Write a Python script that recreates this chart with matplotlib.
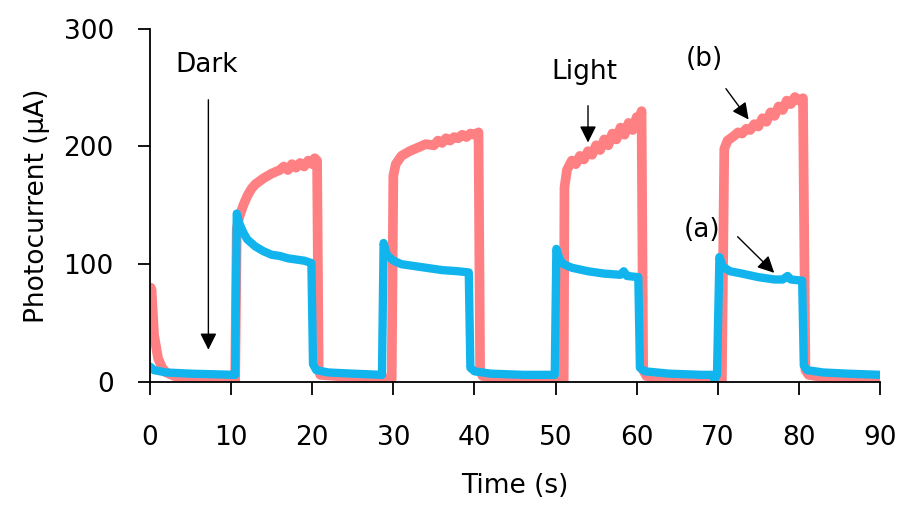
import matplotlib
matplotlib.use('Agg')
import matplotlib.pyplot as plt

# (b) red curve
t_b = [0.1, 0.2, 0.5, 1, 1.5, 2, 3, 4, 5, 6, 8, 10, 10.5, 10.7, 11, 11.5, 12, 12.5, 13, 14, 15, 16,
       16.5, 17, 17.5, 18, 18.5, 19, 19.5, 20, 20.3, 20.6, 20.8, 21, 23, 26, 29, 29.8, 30, 30.3, 31,
       32, 33, 34, 35, 35.5, 36, 36.5, 37, 37.5, 38, 38.5, 39, 39.5, 40, 40.5, 40.7, 41, 44, 48, 50,
       51, 51.1, 51.4, 52, 52.5, 53, 53.5, 54, 54.5, 55, 55.5, 56, 56.5, 57, 57.5, 58, 58.5, 59, 59.5,
       60, 60.3, 60.6, 60.8, 61.2, 64, 68, 70.5, 70.8, 71.2, 72, 72.5, 73, 73.5, 74, 74.5, 75, 75.5,
       76, 76.5, 77, 77.5, 78, 78.5, 79, 79.5, 80, 80.5, 80.8, 81.2, 83, 85, 87, 90]
i_b = [80, 78, 40, 20, 12, 8, 5, 4, 2, 1, 0, 0, 1, 130, 140, 150, 158, 164, 168, 173, 177, 180,
       183, 180, 185, 182, 186, 183, 188, 185, 190, 188, 10, 6, 5, 4, 3, 2, 175, 185, 192,
       196, 199, 202, 201, 205, 203, 207, 205, 208, 207, 210, 208, 211, 210, 212, 10, 5, 3, 2, 1,
       0, 165, 180, 188, 185, 192, 189, 196, 193, 201, 197, 206, 201, 211, 206, 216, 210, 220, 214,
       225, 219, 230, 10, 5, 2, 1, 1, 198, 205, 209, 212, 211, 215, 214, 219, 217, 224,
       221, 229, 226, 234, 231, 239, 236, 242, 239, 241, 10, 6, 4, 2, 0, 0]

# (a) blue curve
t_a = [0, 0.5, 2, 5, 10.5, 10.7, 11, 11.5, 12, 13, 14, 15, 16, 17, 18, 19, 19.9, 20.1, 20.5, 22, 25,
       28.6, 28.8, 29.2, 30, 31, 32, 34, 36, 38, 39.3, 39.5, 40, 42, 46, 49.9, 50.1, 50.5, 51, 52, 54,
       56, 58, 58.4, 58.8, 60.2, 60.4, 61, 64, 68, 69.3, 69.6, 69.9, 70.2, 70.6, 71.5, 73, 75, 77, 78,
       78.6, 79, 80.4, 80.6, 81, 83, 86, 90]
i_a = [13, 10, 8, 7, 6, 143, 135, 127, 121, 115, 111, 108, 107, 105, 104, 103, 101, 15, 10, 8, 7,
       6, 118, 108, 103, 100, 99, 97, 95, 94, 93, 12, 9, 7, 6, 6, 113, 104, 100, 97, 94,
       92, 91, 94, 90, 89, 12, 9, 7, 6, 6, 2, 6, 106, 98, 94, 92, 89, 87, 87,
       90, 87, 86, 14, 10, 8, 7, 6]

xticks = [0, 10, 20, 30, 40, 50, 60, 70, 80, 90]
yticks = [0, 100, 200, 300]

plt.rcParams['font.family'] = ['DejaVu Sans']
fig = plt.figure(figsize=(8.98, 5.14), dpi=100)
ax = fig.add_axes([0.167, 0.257, 0.813, 0.687])

ax.plot(t_b, i_b, color='#FF8083', lw=7, solid_joinstyle='round', solid_capstyle='round')
ax.plot(t_a, i_a, color='#12B4EE', lw=6, solid_joinstyle='round', solid_capstyle='round')

ax.set_xlim(0, 90)
ax.set_ylim(0, 300)
ax.set_xticks(xticks)
ax.set_yticks(yticks)
ax.spines['top'].set_visible(False)
ax.spines['right'].set_visible(False)
ax.spines['left'].set_linewidth(1.3)
ax.spines['bottom'].set_linewidth(1.3)
ax.tick_params(axis='y', direction='out', length=9, width=1.3, pad=17, labelsize=19)
ax.tick_params(axis='x', direction='out', length=9, width=1.3, pad=22, labelsize=19)

ax.set_xlabel('Time (s)', fontsize=19, labelpad=16)
ax.set_ylabel('Photocurrent (μA)', fontsize=19, labelpad=10)

arr = dict(arrowstyle='-|>', color='black', lw=1, mutation_scale=25)
ax.annotate('', xy=(7.2, 25), xytext=(7.2, 242), arrowprops=arr)
ax.text(7.0, 269, 'Dark', fontsize=19, ha='center', va='center')
ax.annotate('', xy=(54.0, 201), xytext=(54.0, 237), arrowprops=arr)
ax.text(53.6, 263, 'Light', fontsize=19, ha='center', va='center')
ax.annotate('', xy=(74.0, 221), xytext=(70.8, 251), arrowprops=arr)
ax.text(68.4, 274, '(b)', fontsize=19, ha='center', va='center')
ax.annotate('', xy=(77.2, 91), xytext=(72.2, 125), arrowprops=arr)
ax.text(68.0, 129, '(a)', fontsize=19, ha='center', va='center')

fig.savefig('out.png', dpi=100)
